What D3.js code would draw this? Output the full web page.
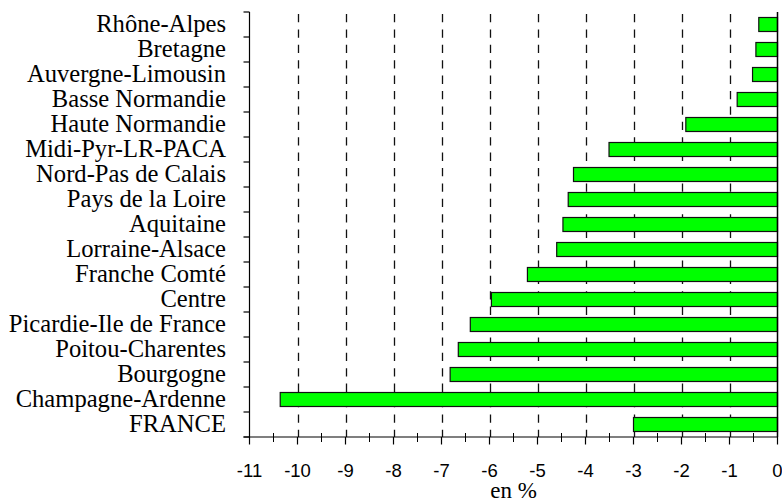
<!DOCTYPE html>
<html>
<head>
<meta charset="utf-8">
<script src="https://cdn.jsdelivr.net/npm/d3@7"></script>
<style>
  html, body { margin: 0; padding: 0; background: #fff; }
  svg { display: block; }
</style>
</head>
<body>
<script>
const categories = ["Rhône-Alpes", "Bretagne", "Auvergne-Limousin", "Basse Normandie", "Haute Normandie",
  "Midi-Pyr-LR-PACA", "Nord-Pas de Calais", "Pays de la Loire", "Aquitaine", "Lorraine-Alsace",
  "Franche Comté", "Centre", "Picardie-Ile de France", "Poitou-Charentes", "Bourgogne",
  "Champagne-Ardenne", "FRANCE"];
const values = [-0.39, -0.45, -0.52, -0.84, -1.91, -3.51, -4.25, -4.36, -4.47, -4.60,
  -5.21, -5.96, -6.40, -6.65, -6.82, -10.36, -3.00];
const majorTicks = [-11, -10, -9, -8, -7, -6, -5, -4, -3, -2, -1, 0];
const minorTicks = [-10.5, -9.5, -8.5, -7.5, -6.5, -5.5, -4.5, -3.5, -2.5, -1.5, -0.5];
const gridTicks = [-10, -9, -8, -7, -6, -5, -4, -3, -2, -1];
const axisTitle = "en %";

const W = 782, H = 502;
const mLeft = 249.5, mRight = 777.5, mTop = 12, mBottom = 437;

const svg = d3.select("body").append("svg").attr("width", W).attr("height", H);

const x = d3.scaleLinear().domain([-11, 0]).range([mLeft, mRight]);
const y = d3.scaleBand().domain(categories).range([mTop, mBottom]).paddingInner(0.44).paddingOuter(0.22);

// dashed gridlines
svg.append("g").selectAll("line").data(gridTicks).join("line")
  .attr("x1", d => Math.round(x(d)) + 0.5).attr("x2", d => Math.round(x(d)) + 0.5)
  .attr("y1", 14).attr("y2", mBottom)
  .attr("stroke", "#111").attr("stroke-width", 1.3)
  .attr("stroke-dasharray", "8.3,7.1");

// bars
svg.append("g").selectAll("rect").data(categories).join("rect")
  .attr("x", (d, i) => x(values[i]))
  .attr("width", (d, i) => x(0) - x(values[i]))
  .attr("y", d => y(d))
  .attr("height", y.bandwidth())
  .attr("fill", "#00ff00")
  .attr("stroke", "#111").attr("stroke-width", 1.2);

// right axis line (zero)
svg.append("line").attr("x1", x(0)).attr("x2", x(0)).attr("y1", mTop).attr("y2", mBottom)
  .attr("stroke", "#000").attr("stroke-width", 1.5);

// left category axis
const step = y.step();
const boundaries = d3.range(categories.length + 1).map(i => mTop + i * step);
svg.append("line").attr("x1", mLeft).attr("x2", mLeft).attr("y1", mTop).attr("y2", mBottom)
  .attr("stroke", "#000").attr("stroke-width", 1.2);
svg.append("g").selectAll("line").data(boundaries).join("line")
  .attr("x1", mLeft - 6).attr("x2", mLeft).attr("y1", d => d).attr("y2", d => d)
  .attr("stroke", "#000").attr("stroke-width", 1.2);

// category labels
svg.append("g").selectAll("text").data(categories).join("text")
  .attr("x", 226)
  .attr("y", d => y(d) + y.bandwidth() / 2 + 7.5)
  .attr("text-anchor", "end")
  .attr("font-family", "'Liberation Serif', 'Times New Roman', serif")
  .attr("font-size", 24.6)
  .attr("fill", "#000")
  .text(d => d);

// bottom axis
svg.append("line").attr("x1", mLeft - 6).attr("x2", mRight).attr("y1", mBottom).attr("y2", mBottom)
  .attr("stroke", "#000").attr("stroke-width", 1.2);
svg.append("g").selectAll("line").data(majorTicks).join("line")
  .attr("x1", d => x(d)).attr("x2", d => x(d))
  .attr("y1", mBottom).attr("y2", mBottom + 7.5)
  .attr("stroke", "#000").attr("stroke-width", 1.2);
svg.append("g").selectAll("line").data(minorTicks).join("line")
  .attr("x1", d => x(d)).attr("x2", d => x(d))
  .attr("y1", mBottom - 4).attr("y2", mBottom + 5)
  .attr("stroke", "#000").attr("stroke-width", 1);
svg.append("g").selectAll("text").data(majorTicks).join("text")
  .attr("x", d => x(d))
  .attr("y", 476.7)
  .attr("text-anchor", "middle")
  .attr("font-family", "'Liberation Sans', Arial, sans-serif")
  .attr("font-size", 18.5)
  .attr("fill", "#000")
  .text(d => d);

svg.append("text")
  .attr("x", (mLeft + mRight) / 2)
  .attr("y", 497.5)
  .attr("text-anchor", "middle")
  .attr("font-family", "'Liberation Serif', 'Times New Roman', serif")
  .attr("font-size", 23)
  .attr("fill", "#000")
  .text(axisTitle);
</script>
</body>
</html>
